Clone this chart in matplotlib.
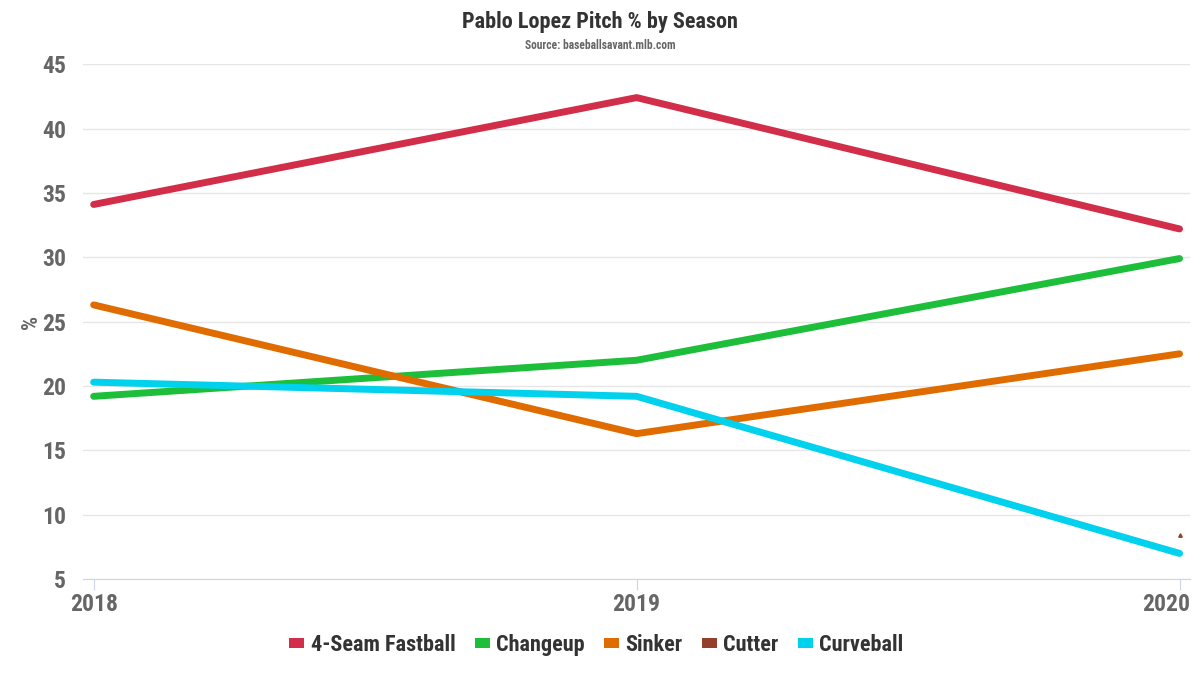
import matplotlib
matplotlib.use("Agg")
import matplotlib.pyplot as plt
from matplotlib import font_manager
from matplotlib.patches import Patch
from matplotlib.transforms import ScaledTranslation

avail = {f.name for f in font_manager.fontManager.ttflist}
fam = None
for cand in ["Roboto Condensed", "Liberation Sans Narrow", "Roboto"]:
    if cand in avail:
        fam = cand
        break
if fam is None:
    fam = "DejaVu Sans"
plt.rcParams['font.family'] = [fam, 'DejaVu Sans']

seasons = [2018, 2019, 2020]
fastball = [34.1, 42.4, 32.2]
changeup = [19.2, 22.0, 29.9]
sinker = [26.3, 16.3, 22.5]
cutter_season = [2020]
cutter = [8.4]
curveball = [20.3, 19.2, 7.0]
yticks = [5, 10, 15, 20, 25, 30, 35, 40, 45]

c_fb = "#D22D49"
c_ch = "#1DBE3A"
c_si = "#E06C00"
c_fc = "#933F2C"
c_cu = "#00D1ED"

fig = plt.figure(figsize=(12, 6.75), dpi=100)
ax = fig.add_axes([0.069, 0.142, 0.923, 0.763])

lw = 5
ax.plot(seasons, fastball, color=c_fb, lw=lw, solid_capstyle='round', zorder=3)
ax.plot(seasons, changeup, color=c_ch, lw=lw, solid_capstyle='round', zorder=3)
ax.plot(seasons, sinker, color=c_si, lw=lw, solid_capstyle='round', zorder=3)
ax.plot(cutter_season, cutter, color=c_fc, marker='^', markersize=2.5, lw=0, zorder=3)
ax.plot(seasons, curveball, color=c_cu, lw=lw, solid_capstyle='round', zorder=3)

ax.set_xlim(2017.98, 2020.02)
ax.set_ylim(5, 45)
ax.set_yticks(yticks)
ax.set_xticks(seasons)
ax.set_xticklabels([str(s) for s in seasons])
ax.grid(axis='y', color='#e6e6e6', lw=1)
ax.set_axisbelow(True)
for s in ['left', 'right', 'top']:
    ax.spines[s].set_visible(False)
ax.spines['bottom'].set_color('#ccd6eb')
ax.tick_params(axis='y', length=0, labelsize=17, labelcolor='#666666', pad=12)
ax.tick_params(axis='x', length=8, color='#ccd6eb', labelsize=17, labelcolor='#666666', pad=2)
for lab in ax.get_xticklabels() + ax.get_yticklabels():
    lab.set_fontweight('bold')
last = ax.get_xticklabels()[-1]
last.set_horizontalalignment('right')
last.set_transform(last.get_transform() + ScaledTranslation(11 / 100, 0, fig.dpi_scale_trans))
ax.set_ylabel('%', fontsize=16, fontweight='bold', color='#666666', labelpad=0)

fig.text(0.5, 0.968, 'Pablo Lopez Pitch % by Season', ha='center', va='center',
         fontsize=16, fontweight='bold', color='#333333')
fig.text(0.5, 0.933, 'Source: baseballsavant.mlb.com', ha='center', va='center',
         fontsize=8.3, fontweight='bold', color='#666666')

names = ['4-Seam Fastball', 'Changeup', 'Sinker', 'Cutter', 'Curveball']
cols = [c_fb, c_ch, c_si, c_fc, c_cu]
handles = [Patch(facecolor=c, edgecolor='none') for c in cols]
leg = fig.legend(handles, names, loc='center', bbox_to_anchor=(0.497, 0.044), ncol=5,
                 frameon=False, handlelength=0.68, handleheight=0.3, handletextpad=0.3,
                 columnspacing=0.85, prop={'size': 16, 'weight': 'bold'})
for t in leg.get_texts():
    t.set_color('#333333')

fig.savefig('out.png', dpi=100, facecolor='white')
